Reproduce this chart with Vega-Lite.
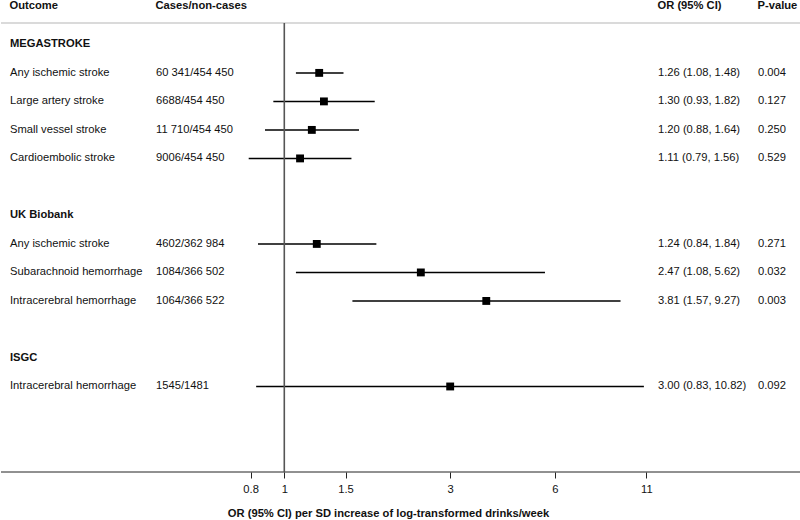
{
  "$schema": "https://vega.github.io/schema/vega-lite/v6.json",
  "padding": 0,
  "autosize": {"type": "pad"},
  "background": "white",
  "bounds": "flush",
  "spacing": 0,
  "config": {
    "font": "Liberation Sans",
    "view": {"stroke": null},
    "concat": {"spacing": 0},
    "title": {"fontSize": 11.2, "fontWeight": "bold", "anchor": "start", "offset": 11, "color": "#111", "font": "Liberation Sans"},
    "text": {"fontSize": 11.2, "color": "#111", "font": "Liberation Sans"}
  },
  "datasets": {
    "rows": [
      {"row": 1, "kind": "group", "outcome": "MEGASTROKE"},
      {"row": 2, "kind": "item", "outcome": "Any ischemic stroke", "cases": "60 341/454 450", "or": 1.26, "lo": 1.08, "hi": 1.48, "orci": "1.26 (1.08, 1.48)", "p": "0.004"},
      {"row": 3, "kind": "item", "outcome": "Large artery stroke", "cases": "6688/454 450", "or": 1.30, "lo": 0.93, "hi": 1.82, "orci": "1.30 (0.93, 1.82)", "p": "0.127"},
      {"row": 4, "kind": "item", "outcome": "Small vessel stroke", "cases": "11 710/454 450", "or": 1.20, "lo": 0.88, "hi": 1.64, "orci": "1.20 (0.88, 1.64)", "p": "0.250"},
      {"row": 5, "kind": "item", "outcome": "Cardioembolic stroke", "cases": "9006/454 450", "or": 1.11, "lo": 0.79, "hi": 1.56, "orci": "1.11 (0.79, 1.56)", "p": "0.529"},
      {"row": 7, "kind": "group", "outcome": "UK Biobank"},
      {"row": 8, "kind": "item", "outcome": "Any ischemic stroke", "cases": "4602/362 984", "or": 1.24, "lo": 0.84, "hi": 1.84, "orci": "1.24 (0.84, 1.84)", "p": "0.271"},
      {"row": 9, "kind": "item", "outcome": "Subarachnoid hemorrhage", "cases": "1084/366 502", "or": 2.47, "lo": 1.08, "hi": 5.62, "orci": "2.47 (1.08, 5.62)", "p": "0.032"},
      {"row": 10, "kind": "item", "outcome": "Intracerebral hemorrhage", "cases": "1064/366 522", "or": 3.81, "lo": 1.57, "hi": 9.27, "orci": "3.81 (1.57, 9.27)", "p": "0.003"},
      {"row": 12, "kind": "group", "outcome": "ISGC"},
      {"row": 13, "kind": "item", "outcome": "Intracerebral hemorrhage", "cases": "1545/1481", "or": 3.00, "lo": 0.83, "hi": 10.82, "orci": "3.00 (0.83, 10.82)", "p": "0.092"}
    ]
  },
  "hconcat": [
    {
      "width": 155, "height": 449,
      "title": {"text": "Outcome", "dx": 9},
      "data": {"name": "rows"},
      "layer": [
        {"data": {"values": [{}]}, "mark": {"type": "rule", "color": "#b5b5b5", "strokeWidth": 1}, "encoding": {"y": {"datum": 0.25, "type": "quantitative", "scale": {"domain": [0.25, 16], "reverse": true, "nice": false, "zero": false}, "axis": null}}},
        {"data": {"values": [{}]}, "mark": {"type": "rule", "color": "#222", "strokeWidth": 1}, "encoding": {"y": {"datum": 16, "type": "quantitative"}}},
        {"transform": [{"filter": "datum.kind === 'group'"}], "mark": {"type": "text", "align": "left", "baseline": "middle", "fontWeight": "bold", "dx": 9}, "encoding": {"x": {"value": 0}, "y": {"field": "row", "type": "quantitative"}, "text": {"field": "outcome"}}},
        {"transform": [{"filter": "datum.kind === 'item'"}], "mark": {"type": "text", "align": "left", "baseline": "middle", "dx": 9}, "encoding": {"x": {"value": 0}, "y": {"field": "row", "type": "quantitative"}, "text": {"field": "outcome"}}}
      ]
    },
    {
      "width": 81, "height": 449,
      "title": {"text": "Cases/non-cases"},
      "data": {"name": "rows"},
      "layer": [
        {"data": {"values": [{}]}, "mark": {"type": "rule", "color": "#b5b5b5", "strokeWidth": 1}, "encoding": {"y": {"datum": 0.25, "type": "quantitative", "scale": {"domain": [0.25, 16], "reverse": true, "nice": false, "zero": false}, "axis": null}}},
        {"data": {"values": [{}]}, "mark": {"type": "rule", "color": "#222", "strokeWidth": 1}, "encoding": {"y": {"datum": 16, "type": "quantitative"}}},
        {"transform": [{"filter": "datum.kind === 'item'"}], "mark": {"type": "text", "align": "left", "baseline": "middle"}, "encoding": {"x": {"value": 0}, "y": {"field": "row", "type": "quantitative"}, "text": {"field": "cases"}}}
      ]
    },
    {
      "width": 421, "height": 449,
      "data": {"name": "rows"},
      "layer": [
        {"data": {"values": [{}]}, "mark": {"type": "rule", "color": "#b5b5b5", "strokeWidth": 1}, "encoding": {"y": {"datum": 0.25, "type": "quantitative", "scale": {"domain": [0.25, 16], "reverse": true, "nice": false, "zero": false}, "axis": null}}},
        {"data": {"values": [{}]}, "mark": {"type": "rule", "color": "#222", "strokeWidth": 1}, "encoding": {"y": {"datum": 16, "type": "quantitative"}}},
        {"transform": [{"filter": "datum.kind === 'item'"}], "mark": {"type": "rule", "color": "#000", "strokeWidth": 1.5},
          "encoding": {
            "x": {"field": "lo", "type": "quantitative",
              "scale": {"type": "log", "domain": [0.7311, 11.88], "nice": false, "zero": false},
              "axis": {"orient": "bottom", "values": [0.8, 1, 1.5, 3, 6, 11], "format": "~g", "domain": false, "grid": false,
                "ticks": true, "tickColor": "#222", "tickSize": 6, "tickWidth": 1,
                "labelFont": "Liberation Sans", "labelFontSize": 11.2, "labelColor": "#111", "labelPadding": 5, "labelFlush": false, "labelOverlap": false,
                "title": "OR (95% CI) per SD increase of log-transformed drinks/week",
                "titleFont": "Liberation Sans", "titleFontSize": 11.2, "titleFontWeight": "bold", "titleColor": "#111",
                "titleX": 151, "titleAlign": "center", "titlePadding": 13}},
            "x2": {"field": "hi"},
            "y": {"field": "row", "type": "quantitative"}
          }},
        {"data": {"values": [{}]}, "mark": {"type": "rule", "color": "#555", "strokeWidth": 1.6}, "encoding": {"x": {"datum": 1, "type": "quantitative"}}},
        {"transform": [{"filter": "datum.kind === 'item'"}], "mark": {"type": "point", "shape": "square", "filled": true, "size": 62, "color": "#000", "opacity": 1},
          "encoding": {"x": {"field": "or", "type": "quantitative"}, "y": {"field": "row", "type": "quantitative"}}}
      ]
    },
    {
      "width": 100, "height": 449,
      "title": {"text": "OR (95% CI)"},
      "data": {"name": "rows"},
      "layer": [
        {"data": {"values": [{}]}, "mark": {"type": "rule", "color": "#b5b5b5", "strokeWidth": 1}, "encoding": {"y": {"datum": 0.25, "type": "quantitative", "scale": {"domain": [0.25, 16], "reverse": true, "nice": false, "zero": false}, "axis": null}}},
        {"data": {"values": [{}]}, "mark": {"type": "rule", "color": "#222", "strokeWidth": 1}, "encoding": {"y": {"datum": 16, "type": "quantitative"}}},
        {"transform": [{"filter": "datum.kind === 'item'"}], "mark": {"type": "text", "align": "left", "baseline": "middle"}, "encoding": {"x": {"value": 0}, "y": {"field": "row", "type": "quantitative"}, "text": {"field": "orci"}}}
      ]
    },
    {
      "width": 43, "height": 449,
      "title": {"text": "P-value"},
      "data": {"name": "rows"},
      "layer": [
        {"data": {"values": [{}]}, "mark": {"type": "rule", "color": "#b5b5b5", "strokeWidth": 1}, "encoding": {"y": {"datum": 0.25, "type": "quantitative", "scale": {"domain": [0.25, 16], "reverse": true, "nice": false, "zero": false}, "axis": null}}},
        {"data": {"values": [{}]}, "mark": {"type": "rule", "color": "#222", "strokeWidth": 1}, "encoding": {"y": {"datum": 16, "type": "quantitative"}}},
        {"transform": [{"filter": "datum.kind === 'item'"}], "mark": {"type": "text", "align": "left", "baseline": "middle"}, "encoding": {"x": {"value": 0}, "y": {"field": "row", "type": "quantitative"}, "text": {"field": "p"}}}
      ]
    }
  ]
}
